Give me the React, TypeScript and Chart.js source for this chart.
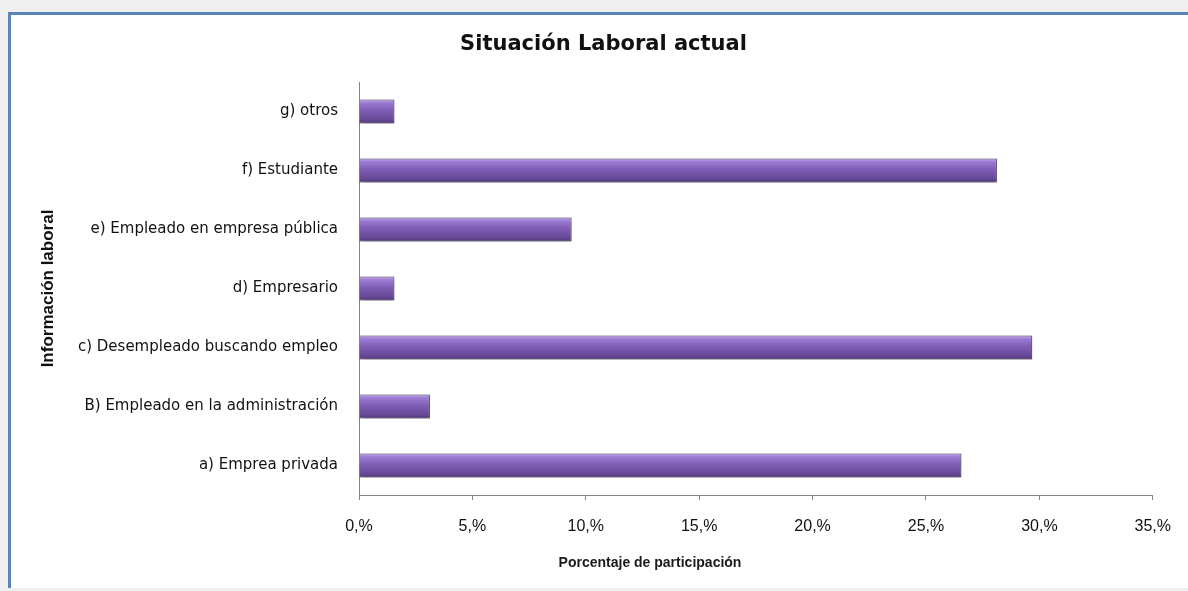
import React, { useEffect, useRef } from "react";
import { Chart, registerables } from "chart.js";

Chart.register(...registerables);

const categories = [
  "a) Emprea privada",
  "B) Empleado en la administración",
  "c) Desempleado buscando empleo",
  "d) Empresario",
  "e) Empleado en empresa pública",
  "f) Estudiante",
  "g) otros",
];
const values = [26.5625, 3.125, 29.6875, 1.5625, 9.375, 28.125, 1.5625];
const xTicks = [0, 5, 10, 15, 20, 25, 30, 35];
const titleText = "Situación Laboral actual";
const xTitle = "Porcentaje de participación";
const yTitle = "Información laboral";

export default function App() {
  const ref = useRef<HTMLCanvasElement | null>(null);
  useEffect(() => {
    const canvas = ref.current;
    if (!canvas) return;
    const textPlugin = {
      id: "textPlugin",
      afterDraw(chart: any) {
        const { ctx, chartArea } = chart;
        ctx.save();
        ctx.fillStyle = "#111";
        ctx.textAlign = "center";
        ctx.textBaseline = "middle";
        ctx.font = "bold 21px 'DejaVu Sans', sans-serif";
        ctx.fillText(titleText, chart.width / 2 + 4, 30);
        ctx.fillStyle = "#1a1a1a";
        ctx.font = "bold 14px 'Liberation Sans', Arial, sans-serif";
        ctx.fillText(xTitle, chartArea.left + 291, chartArea.bottom + 68);
        ctx.restore();
      },
    };
    const shadowPlugin = {
      id: "shadowPlugin",
      beforeDatasetsDraw(chart: any) {
        const ctx = chart.ctx;
        ctx.save();
        ctx.shadowColor = "rgba(0,0,0,0.28)";
        ctx.shadowBlur = 5;
        ctx.shadowOffsetX = 1;
        ctx.shadowOffsetY = 3;
      },
      afterDatasetsDraw(chart: any) {
        chart.ctx.restore();
      },
    };
    const chart = new Chart(canvas, {
      type: "bar",
      data: {
        labels: categories,
        datasets: [
          {
            data: values,
            backgroundColor: (c: any) => {
              const chartRef = c.chart;
              const ys = chartRef.scales && chartRef.scales.y;
              if (!chartRef.chartArea || !ys || c.dataIndex === undefined) return "#7b5aae";
              const center = ys.getPixelForValue(c.dataIndex);
              const step = Math.abs(ys.getPixelForValue(1) - ys.getPixelForValue(0)) || 59;
              const half = (step * 0.41) / 2;
              const g = chartRef.ctx.createLinearGradient(0, center - half, 0, center + half);
              g.addColorStop(0, "#c6b0ee");
              g.addColorStop(0.14, "#9c7cd4");
              g.addColorStop(0.45, "#805eb6");
              g.addColorStop(0.85, "#654895");
              g.addColorStop(1, "#4a3472");
              return g;
            },
            borderColor: "#3d2b5a",
            borderWidth: 1,
            barPercentage: 0.41,
            categoryPercentage: 1,
          },
        ],
      },
      options: {
        indexAxis: "y",
        animation: false,
        responsive: false,
        maintainAspectRatio: false,
        layout: { padding: { left: 0, right: 34, top: 67, bottom: 0 } },
        plugins: {
          legend: { display: false },
          tooltip: { enabled: false },
          title: { display: false },
        },
        scales: {
          x: {
            min: 0,
            max: 35,
            afterBuildTicks: (s: any) => {
              s.ticks = xTicks.map((v) => ({ value: v }));
            },
            afterFit: (s: any) => {
              s.height = 93;
            },
            ticks: {
              callback: (v: any) => v + ",%",
              color: "#111",
              font: { family: "'Liberation Sans', Arial, sans-serif", size: 16 },
              padding: 17,
              maxRotation: 0,
            },
            grid: {
              display: true,
              drawOnChartArea: false,
              drawTicks: true,
              tickLength: 5,
              color: "#868686",
            },
            border: { display: true, color: "#868686", width: 1 },
          },
          y: {
            reverse: true,
            afterFit: (s: any) => {
              s.width = 348;
            },
            ticks: {
              color: "#111",
              font: { family: "'DejaVu Sans', sans-serif", size: 15 },
              padding: 21,
            },
            grid: { display: false, drawTicks: false },
            border: { display: true, color: "#868686", width: 1 },
            title: {
              display: true,
              text: yTitle,
              color: "#111",
              font: { family: "'Liberation Sans Narrow', 'Liberation Sans', Arial, sans-serif", size: 17, weight: "bold" },
              padding: { top: 27, bottom: 0 },
            },
          },
        },
      },
      plugins: [shadowPlugin, textPlugin],
    } as any);
    return () => chart.destroy();
  }, []);

  return (
    <div style={{ position: "fixed", left: 0, top: 0, width: 1188, height: 591, background: "#efefef" }}>
      <div
        style={{
          position: "absolute",
          left: 8,
          top: 12,
          width: 1180,
          height: 576,
          boxSizing: "border-box",
          borderTop: "3px solid #5b86b3",
          borderLeft: "3px solid #5b86b3",
          background: "#ffffff",
        }}
      >
        <canvas ref={ref} width={1177} height={573} style={{ display: "block", width: 1177, height: 573 }} />
      </div>
    </div>
  );
}
